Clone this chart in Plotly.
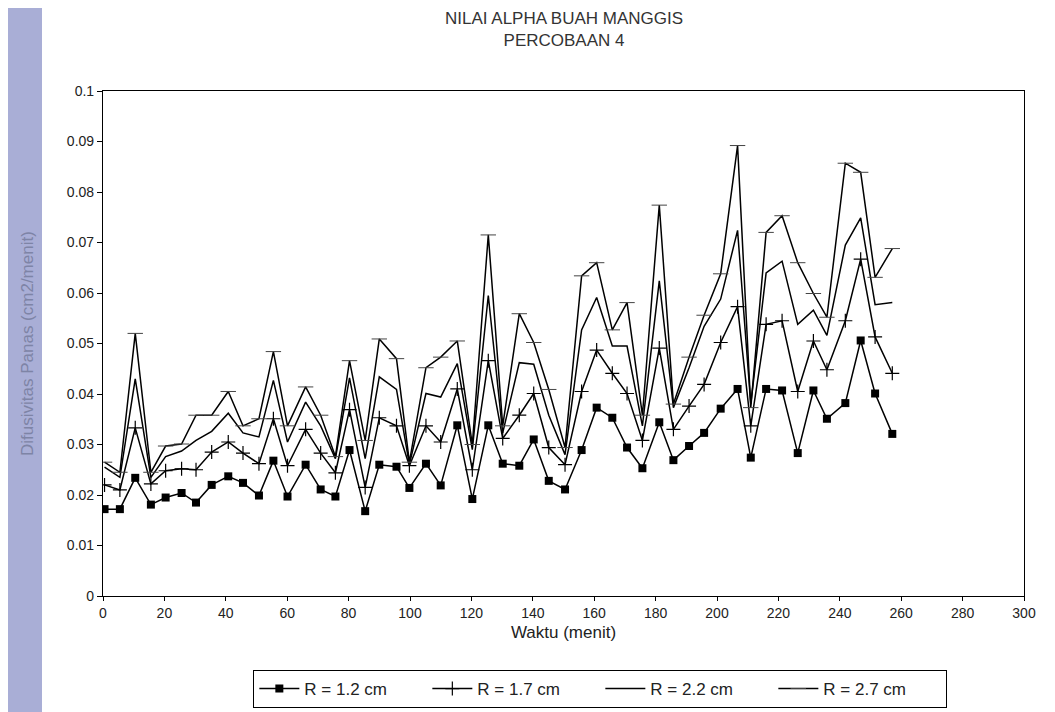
import plotly.graph_objects as go

# time (menit)
waktu = [0.5, 5.5, 10.5, 15.6, 20.4, 25.6, 30.3, 35.4, 40.8, 45.6, 50.8, 55.5, 60.1, 66.0,
         70.9, 75.7, 80.3, 85.4, 90.0, 95.6, 99.8, 105.2, 110.0, 115.4, 120.3, 125.5, 130.2,
         135.6, 140.3, 145.2, 150.5, 155.9, 160.8, 165.9, 170.7, 175.7, 181.2, 185.8, 190.9,
         195.8, 201.2, 206.7, 211.0, 216.0, 221.2, 226.3, 231.4, 235.8, 241.8, 246.8, 251.5, 257.1]

r12 = [0.0172, 0.0172, 0.0234, 0.0181, 0.0195, 0.0204, 0.0185, 0.0220, 0.0237, 0.0224, 0.0199,
       0.0268, 0.0197, 0.0260, 0.0211, 0.0197, 0.0289, 0.0168, 0.0260, 0.0256, 0.0214, 0.0262,
       0.0219, 0.0338, 0.0192, 0.0338, 0.0262, 0.0258, 0.0310, 0.0228, 0.0211, 0.0289, 0.0373,
       0.0353, 0.0294, 0.0253, 0.0344, 0.0269, 0.0297, 0.0323, 0.0371, 0.0410, 0.0274, 0.0410,
       0.0407, 0.0283, 0.0407, 0.0351, 0.0382, 0.0506, 0.0401, 0.0321]

r17 = [0.0220, 0.0210, 0.0333, 0.0222, 0.0248, 0.0252, 0.0250, 0.0285, 0.0305, 0.0283, 0.0262,
       0.0351, 0.0258, 0.0330, 0.0283, 0.0244, 0.0369, 0.0215, 0.0353, 0.0337, 0.0258, 0.0337,
       0.0305, 0.0410, 0.0250, 0.0466, 0.0312, 0.0358, 0.0401, 0.0294, 0.0260, 0.0405, 0.0487,
       0.0441, 0.0401, 0.0308, 0.0491, 0.0330, 0.0376, 0.0419, 0.0502, 0.0573, 0.0337, 0.0538,
       0.0545, 0.0405, 0.0505, 0.0448, 0.0545, 0.0667, 0.0513, 0.0441]

r22 = [0.0255, 0.0235, 0.0430, 0.0235, 0.0276, 0.0287, 0.0308, 0.0326, 0.0362, 0.0323, 0.0315,
       0.0427, 0.0305, 0.0384, 0.0337, 0.0272, 0.0432, 0.0272, 0.0434, 0.0409, 0.0260, 0.0401,
       0.0394, 0.0460, 0.0290, 0.0595, 0.0323, 0.0462, 0.0459, 0.0358, 0.0280, 0.0527, 0.0591,
       0.0495, 0.0495, 0.0337, 0.0624, 0.0373, 0.0452, 0.0534, 0.0588, 0.0724, 0.0380, 0.0640,
       0.0663, 0.0538, 0.0566, 0.0516, 0.0695, 0.0749, 0.0577, 0.0581]

r27 = [0.0265, 0.0245, 0.0520, 0.0245, 0.0297, 0.0301, 0.0358, 0.0358, 0.0405, 0.0337, 0.0351,
       0.0484, 0.0337, 0.0414, 0.0358, 0.0276, 0.0466, 0.0308, 0.0509, 0.0470, 0.0265, 0.0452,
       0.0473, 0.0505, 0.0300, 0.0715, 0.0337, 0.0559, 0.0502, 0.0409, 0.0294, 0.0634, 0.0660,
       0.0527, 0.0581, 0.0358, 0.0774, 0.0380, 0.0473, 0.0556, 0.0638, 0.0892, 0.0373, 0.0720,
       0.0753, 0.0660, 0.0599, 0.0552, 0.0857, 0.0839, 0.0631, 0.0688]

y_ticks = [0, 0.01, 0.02, 0.03, 0.04, 0.05, 0.06, 0.07, 0.08, 0.09, 0.1]
y_tick_text = ["0", "0.01", "0.02", "0.03", "0.04", "0.05", "0.06", "0.07", "0.08", "0.09", "0.1"]
x_ticks = [0, 20, 40, 60, 80, 100, 120, 140, 160, 180, 200, 220, 240, 260, 280, 300]

FONT = "Liberation Sans Narrow, Liberation Sans, Arial, sans-serif"

fig = go.Figure()
fig.add_trace(go.Scatter(x=waktu, y=r12, name="R = 1.2 cm", mode="lines+markers",
                         line=dict(color="black", width=1.5),
                         marker=dict(symbol="square", size=8, color="black")))
fig.add_trace(go.Scatter(x=waktu, y=r17, name="R = 1.7 cm", mode="lines+markers",
                         line=dict(color="black", width=1.5),
                         marker=dict(symbol="cross-thin", size=10,
                                     line=dict(color="black", width=1.2))))
fig.add_trace(go.Scatter(x=waktu, y=r22, name="R = 2.2 cm", mode="lines",
                         line=dict(color="black", width=1.5)))
fig.add_trace(go.Scatter(x=waktu, y=r27, name="R = 2.7 cm", mode="lines+markers",
                         line=dict(color="black", width=1.5),
                         marker=dict(symbol="line-ew", size=11,
                                     line=dict(color="#444", width=1))))

W, H = 1055, 712
L, R, T, B = 95, 39, 83, 124
pw = W - L - R
ph = H - T - B
bottom_px = H - B

fig.update_layout(
    width=W, height=H,
    margin=dict(l=L, r=R, t=T, b=B),
    paper_bgcolor="white", plot_bgcolor="white",
    font=dict(family=FONT, color="#222", size=13),
    xaxis=dict(range=[0, 300], tickvals=x_ticks, showgrid=False, zeroline=False,
               showline=True, linecolor="black", linewidth=1.2, mirror=True,
               ticks="outside", ticklen=4, tickcolor="black",
               tickfont=dict(size=14),
               title=dict(text="Waktu (menit)", font=dict(size=17), standoff=6)),
    yaxis=dict(range=[0, 0.1], tickvals=y_ticks, ticktext=y_tick_text, showgrid=False,
               zeroline=False, showline=True, linecolor="black", linewidth=1.2, mirror=True,
               ticks="outside", ticklen=5, tickcolor="black", tickfont=dict(size=14)),
    legend=dict(orientation="h", x=0.54, xanchor="center",
                y=(bottom_px - 681) / ph, yanchor="middle",
                bordercolor="black", borderwidth=1, bgcolor="white",
                font=dict(family=FONT, size=17, color="#222"),
                entrywidth=118, entrywidthmode="pixels", itemwidth=40),
    showlegend=True,
)

# title as annotation (two lines)
fig.add_annotation(text="NILAI ALPHA BUAH MANGGIS<br>PERCOBAAN 4", xref="paper", yref="paper",
                   x=0.5, y=1 + (T - 22) / ph, yanchor="middle", showarrow=False,
                   font=dict(family=FONT, size=17, color="#333"))

# lavender strip of the scanned page at the left edge
fig.add_shape(type="rect", xref="paper", yref="paper",
              x0=-L / pw, x1=(34 - L) / pw, y0=-B / ph, y1=1 + T / ph,
              fillcolor="#a9aed6", line=dict(width=0), layer="below")

fig.add_annotation(text="Difusivitas Panas (cm2/menit)", xref="paper", yref="paper",
                   x=(8 - L) / pw, y=0.5, textangle=-90, showarrow=False,
                   font=dict(family=FONT, size=17, color="#7e84a6"))

fig.write_html("out.html")
